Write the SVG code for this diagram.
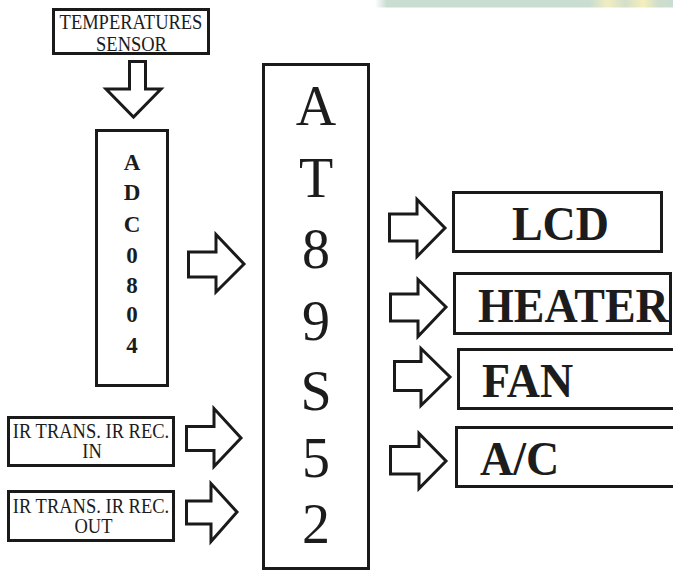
<svg xmlns="http://www.w3.org/2000/svg" width="673" height="571" viewBox="0 0 673 571">
<defs>
<style>
.box{fill:#fff;stroke:#1a1a1a;stroke-width:3}
.arr{fill:#fff;stroke:#1a1a1a;stroke-width:3;stroke-linejoin:miter}
.t{font-family:"Liberation Serif","Times New Roman",serif;fill:#1c1c1c}
.s{font-size:18.5px;text-anchor:middle}
.adc{font-size:23px;font-weight:bold;text-anchor:middle}
.mcu{font-size:56px;text-anchor:middle}
.big{font-size:46px;font-weight:bold}
</style>
<linearGradient id="strip" x1="0" y1="0" x2="1" y2="0">
<stop offset="0" stop-color="#ffffff"/>
<stop offset="0.04" stop-color="#c9ddd0"/>
<stop offset="0.72" stop-color="#c9ddd0"/>
<stop offset="0.78" stop-color="#f1edc2"/>
<stop offset="0.84" stop-color="#d3dfcb"/>
<stop offset="0.9" stop-color="#f5efbb"/>
<stop offset="0.95" stop-color="#cfdecd"/>
<stop offset="1" stop-color="#c9ddd0"/>
</linearGradient>
</defs>
<rect width="673" height="571" fill="#fff"/>
<rect x="375" y="0" width="298" height="7.5" fill="url(#strip)"/>

<g id="connectors">
<polygon class="arr" points="129.5,61.5 145.5,61.5 145.5,89 161,89 133.5,117 106,89 129.5,89"/>
<polygon class="arr" points="188.5,252 216,252 216,234.5 244,264 216,292 216,277 188.5,277"/>
<polygon class="arr" points="186.5,426.5 214,426.5 214,408.5 241,438 214,466.5 214,450.5 186.5,450.5"/>
<polygon class="arr" points="186.5,501 211,501 211,483.5 237,512 211,541.5 211,524 186.5,524"/>
<polygon class="arr" points="389.5,214 417,214 417,199.5 445,228 417,256.5 417,241 389.5,241"/>
<polygon class="arr" points="390.5,294 418,294 418,279.5 446,307 418,336.5 418,321 390.5,321"/>
<polygon class="arr" points="394.5,361.5 421,361.5 421,348.5 450,377 421,405.5 421,390.5 394.5,390.5"/>
<polygon class="arr" points="390.5,446.5 419,446.5 419,433.5 446,461 419,488.5 419,474 390.5,474"/>
</g>

<g id="temp-sensor">
<rect class="box" x="53.5" y="9.5" width="155" height="44"/>
<text class="t s" transform="translate(131,29) scale(1,1.1)">TEMPERATURES</text>
<text class="t s" transform="translate(131.5,51) scale(1,1.1)">SENSOR</text>
</g>

<g id="adc">
<rect class="box" x="96.5" y="130.5" width="71" height="255"/>
<text class="t adc" x="132" y="170">A</text>
<text class="t adc" x="132" y="200">D</text>
<text class="t adc" x="132" y="232">C</text>
<text class="t adc" x="132" y="263">0</text>
<text class="t adc" x="132" y="293">8</text>
<text class="t adc" x="132" y="322">0</text>
<text class="t adc" x="132" y="353">4</text>
</g>

<g id="mcu">
<rect class="box" x="263.5" y="64.5" width="105" height="504"/>
<text class="t mcu" x="316" y="125">A</text>
<text class="t mcu" x="316" y="197">T</text>
<text class="t mcu" x="316" y="268">8</text>
<text class="t mcu" x="316" y="340">9</text>
<text class="t mcu" x="316" y="410">S</text>
<text class="t mcu" x="316" y="477">5</text>
<text class="t mcu" x="316" y="543">2</text>
</g>

<g id="ir-in">
<rect class="box" x="8.5" y="417.5" width="165" height="48"/>
<text class="t s" transform="translate(91,438) scale(1,1.1)">IR TRANS. IR REC.</text>
<text class="t s" transform="translate(92,458) scale(1,1.1)">IN</text>
</g>

<g id="ir-out">
<rect class="box" x="8.5" y="491.5" width="165" height="49"/>
<text class="t s" transform="translate(91,513) scale(1,1.1)">IR TRANS. IR REC.</text>
<text class="t s" transform="translate(93.5,533) scale(1,1.1)">OUT</text>
</g>

<g id="lcd">
<rect class="box" x="453.5" y="192.5" width="208" height="59"/>
<text class="t big" text-anchor="middle" transform="translate(560.5,240) scale(1,1.06)">LCD</text>
</g>

<g id="heater">
<rect class="box" x="454.5" y="273.5" width="216" height="60"/>
<text class="t big" transform="translate(478,322) scale(1,1.06)">HEATER</text>
</g>

<g id="fan">
<rect class="box" x="458.5" y="349.5" width="220" height="59"/>
<text class="t big" transform="translate(482,397) scale(1,1.06)">FAN</text>
</g>

<g id="ac">
<rect class="box" x="456.5" y="427.5" width="222" height="59"/>
<text class="t big" transform="translate(480,475) scale(1,1.06)">A/C</text>
</g>
</svg>
